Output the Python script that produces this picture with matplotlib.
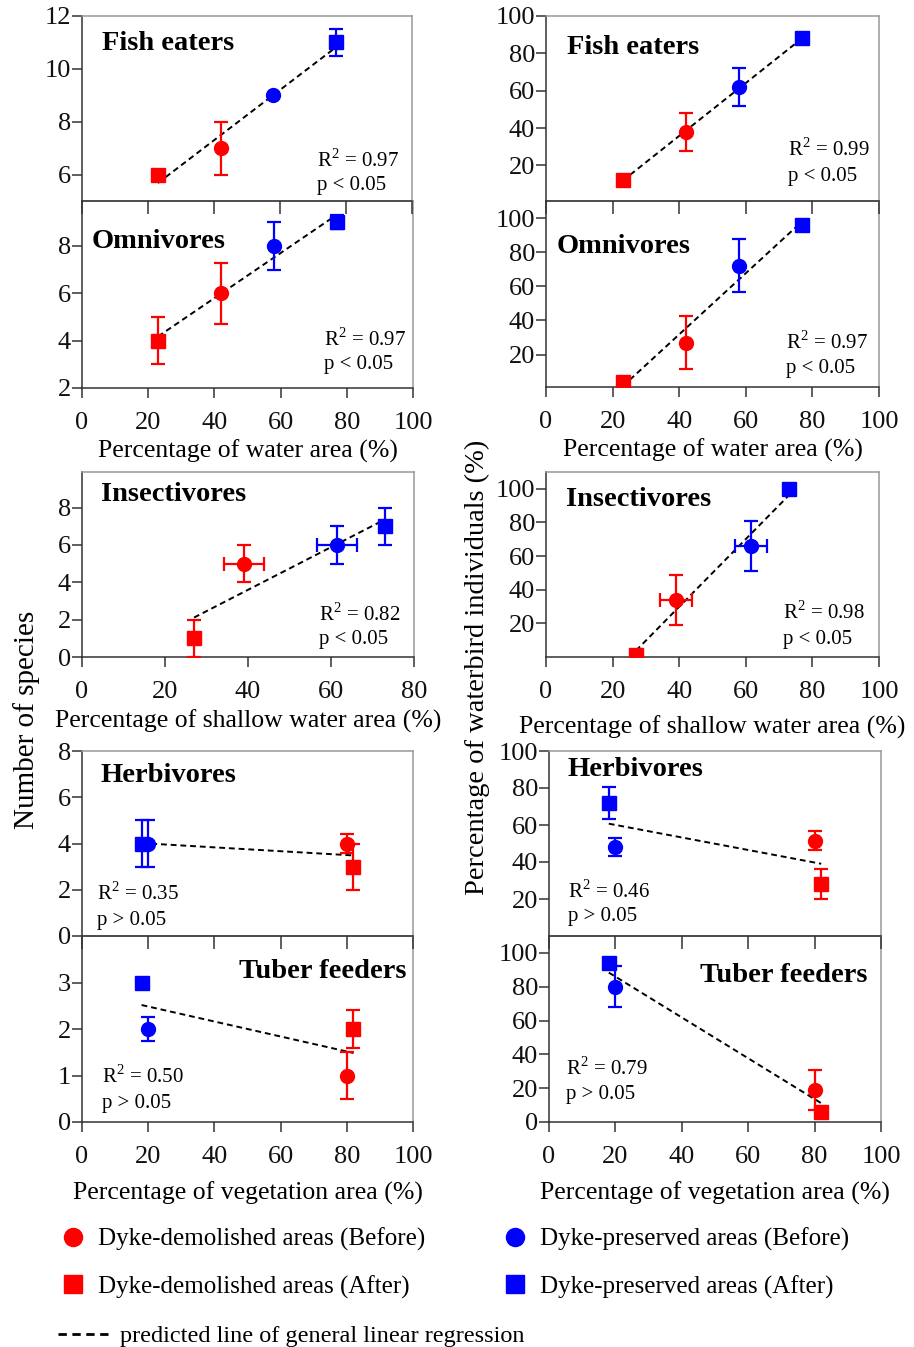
import numpy as np
import matplotlib
matplotlib.use("Agg")
import matplotlib.pyplot as plt
from matplotlib.lines import Line2D

plt.rcParams['font.family'] = ['Liberation Serif', 'DejaVu Serif']
plt.rcParams['mathtext.fontset'] = 'custom'
plt.rcParams['mathtext.rm'] = 'Liberation Serif'

# order of points: demolished before, demolished after, preserved before, preserved after
colors = ['#ff0000', '#ff0000', '#0000ff', '#0000ff']
markers = ['o', 's', 'o', 's']
legend_labels = ['Dyke-demolished areas (Before)', 'Dyke-demolished areas (After)',
                 'Dyke-preserved areas (Before)', 'Dyke-preserved areas (After)']

water_x = [42, 23, 58, 77]
fish_sp = [7, 6, 9, 11]
fish_sp_err = [1, 0, 0, 0.5]
omni_sp = [6, 4, 8, 9]
omni_sp_err = [1.3, 1, 1, 0.3]
fish_pct = [38, 12, 62, 88]
fish_pct_err = [10, 0, 10, 0]
omni_pct = [27, 4, 72, 96]
omni_pct_err = [15.5, 0, 15.5, 0]

shallow_x = [39, 27, 61.5, 73]
shallow_xerr = [4.8, 0, 4.8, 0]
insect_sp = [5, 1, 6, 7]
insect_sp_err = [1, 1, 1, 1]
insect_pct = [34, 1, 66, 100]
insect_pct_err = [15, 0, 15, 0]

veg_x = [80, 82, 20, 18]
herb_sp = [4, 3, 4, 4]
herb_sp_err = [0.4, 1, 1, 1]
tuber_sp = [1, 2, 2, 3]
tuber_sp_err = [0.5, 0.4, 0.25, 0]
herb_pct = [51.5, 28, 48, 72]
herb_pct_err = [5, 8, 5, 8.5]
tuber_pct = [19, 6, 80, 94]
tuber_pct_err = [12, 0, 12, 0]

W, H = 914, 1347
fig = plt.figure(figsize=(W / 100, H / 100), dpi=100)


def add_ax(x0, y0, x1, y1):
    return fig.add_axes([x0 / W, 1 - y1 / H, (x1 - x0) / W, (y1 - y0) / H])


def draw_panel(ax, x, y, yerr, xerr=None):
    # regression line
    k, b = np.polyfit(x, y, 1)
    xs = np.array([min(x), max(x)])
    ax.plot(xs, k * xs + b, color='black', lw=1.4, ls=(0, (3, 2)), zorder=2)
    for i in range(len(x)):
        xe = None if xerr is None or xerr[i] == 0 else xerr[i]
        ye = None if yerr[i] == 0 else yerr[i]
        ax.errorbar(x[i], y[i], yerr=ye, xerr=xe, fmt=markers[i], color=colors[i],
                    ms=10, capsize=5, elinewidth=1.6, capthick=1.6, zorder=3)


def style(ax, xlim, ylim, yticks, xticks, labels=True):
    ax.set_xlim(xlim)
    ax.set_ylim(ylim)
    ax.set_yticks(yticks)
    ax.set_xticks(xticks)
    for s in ['left', 'bottom']:
        ax.spines[s].set_color('#333333')
    for s in ['top', 'right']:
        ax.spines[s].set_color('#999999')
    for s in ax.spines.values():
        s.set_linewidth(1.1)
    ax.tick_params(direction='out', length=7, width=1.1, labelsize=19,
                   colors='#333333', labelcolor='#111111')
    ax.tick_params(axis='y', pad=1)
    ax.tick_params(axis='x', pad=10)
    if not labels:
        ax.tick_params(axis='x', labelbottom=False, length=9)
        ax.set_zorder(3)
        ax.patch.set_alpha(0)


def title(ax, txt, x, y, ha='left'):
    ax.text(x, y, txt, transform=ax.transAxes, fontsize=20.5, fontweight='bold',
            ha=ha, va='center')


def stats(ax, r2, p, x, y1, y2):
    ax.text(x, y1, 'R$^{2}$ = ' + r2, transform=ax.transAxes, fontsize=15, va='center')
    ax.text(x, y2, p, transform=ax.transAxes, fontsize=15, va='center')


xt100 = [0, 20, 40, 60, 80, 100]

# --- left column: number of species ---
ax = add_ax(82, 16, 412, 201)
draw_panel(ax, water_x, fish_sp, fish_sp_err)
style(ax, (0, 100), (5, 12), [6, 8, 10, 12], xt100, labels=False)
title(ax, 'Fish eaters', 0.06, 0.854)
stats(ax, '0.97', 'p < 0.05', 0.713, 0.22, 0.086)

ax = add_ax(82, 201, 413, 388)
draw_panel(ax, water_x, omni_sp, omni_sp_err)
style(ax, (0, 100), (2, 9.9), [2, 4, 6, 8], xt100)
title(ax, 'Omnivores', 0.03, 0.786)
stats(ax, '0.97', 'p < 0.05', 0.73, 0.262, 0.123)
ax.set_xlabel('Percentage of water area (%)', fontsize=18.5, labelpad=4)

ax = add_ax(82, 472, 414, 657)
draw_panel(ax, shallow_x, insect_sp, insect_sp_err, shallow_xerr)
style(ax, (0, 80), (0, 9.9), [0, 2, 4, 6, 8], [0, 20, 40, 60, 80])
title(ax, 'Insectivores', 0.057, 0.876)
stats(ax, '0.82', 'p < 0.05', 0.713, 0.232, 0.092)
ax.set_xlabel('Percentage of shallow water area (%)', fontsize=18.5, labelpad=5)

ax = add_ax(82, 751, 413, 936)
draw_panel(ax, veg_x, herb_sp, herb_sp_err)
style(ax, (0, 100), (0, 8), [0, 2, 4, 6, 8], xt100, labels=False)
title(ax, 'Herbivores', 0.057, 0.865)
stats(ax, '0.35', 'p > 0.05', 0.045, 0.232, 0.086)

ax = add_ax(82, 936, 413, 1122)
draw_panel(ax, veg_x, tuber_sp, tuber_sp_err)
style(ax, (0, 100), (0, 4), [0, 1, 2, 3], xt100)
title(ax, 'Tuber feeders', 0.98, 0.81, ha='right')
stats(ax, '0.50', 'p > 0.05', 0.06, 0.242, 0.102)
ax.set_xlabel('Percentage of vegetation area (%)', fontsize=18.5, labelpad=10)

# --- right column: percentage of individuals ---
ax = add_ax(546, 16, 879, 201)
draw_panel(ax, water_x, fish_pct, fish_pct_err)
style(ax, (0, 100), (1, 100), [20, 40, 60, 80, 100], xt100, labels=False)
title(ax, 'Fish eaters', 0.063, 0.832)
stats(ax, '0.99', 'p < 0.05', 0.727, 0.276, 0.135)

ax = add_ax(546, 201, 879, 387)
draw_panel(ax, water_x, omni_pct, omni_pct_err)
style(ax, (0, 100), (1, 110), [20, 40, 60, 80, 100], xt100)
title(ax, 'Omnivores', 0.033, 0.753)
stats(ax, '0.97', 'p < 0.05', 0.72, 0.237, 0.097)
ax.set_xlabel('Percentage of water area (%)', fontsize=18.5, labelpad=4)

ax = add_ax(546, 472, 879, 657)
draw_panel(ax, shallow_x, insect_pct, insect_pct_err, shallow_xerr)
style(ax, (0, 100), (0, 110), [20, 40, 60, 80, 100], xt100)
title(ax, 'Insectivores', 0.06, 0.854)
stats(ax, '0.98', 'p < 0.05', 0.712, 0.238, 0.092)
ax.set_xlabel('Percentage of shallow water area (%)', fontsize=18.5, labelpad=9)

ax = add_ax(549, 751, 881, 936)
draw_panel(ax, veg_x, herb_pct, herb_pct_err)
style(ax, (0, 100), (0, 100), [20, 40, 60, 80, 100], xt100, labels=False)
title(ax, 'Herbivores', 0.057, 0.9)
stats(ax, '0.46', 'p > 0.05', 0.057, 0.238, 0.103)

ax = add_ax(549, 936, 881, 1122)
draw_panel(ax, veg_x, tuber_pct, tuber_pct_err)
style(ax, (0, 100), (0, 110), [0, 20, 40, 60, 80, 100], xt100)
title(ax, 'Tuber feeders', 0.96, 0.79, ha='right')
stats(ax, '0.79', 'p > 0.05', 0.05, 0.285, 0.15)
ax.set_xlabel('Percentage of vegetation area (%)', fontsize=18.5, labelpad=10)

fig.text(27 / W, 1 - 720 / H, 'Number of species', rotation=90, fontsize=21,
         ha='center', va='center')
fig.text(477 / W, 1 - 667 / H, 'Percentage of waterbird individuals (%)', rotation=90,
         fontsize=20.5, ha='center', va='center')

# --- legend ---
handles = [Line2D([], [], ls='none', marker=markers[i], color=colors[i], ms=13)
           for i in range(4)]
for col, x0 in enumerate([58, 500]):
    fig.legend(handles[2 * col:2 * col + 2], legend_labels[2 * col:2 * col + 2],
               loc='upper left', bbox_to_anchor=(x0 / W, 1 - 1228 / H), frameon=False,
               fontsize=18, handlelength=1.2, handletextpad=0.4, labelspacing=0.95,
               borderaxespad=0, borderpad=0)
dash = Line2D([], [], color='black', lw=2, ls=(0, (3, 2)))
fig.legend([dash], ['predicted line of general linear regression'], loc='upper left',
           bbox_to_anchor=(58 / W, 1 - 1325 / H), frameon=False, fontsize=17.5,
           handlelength=2.2, handletextpad=0.35, borderaxespad=0, borderpad=0)

fig.savefig('out.png', dpi=100)
